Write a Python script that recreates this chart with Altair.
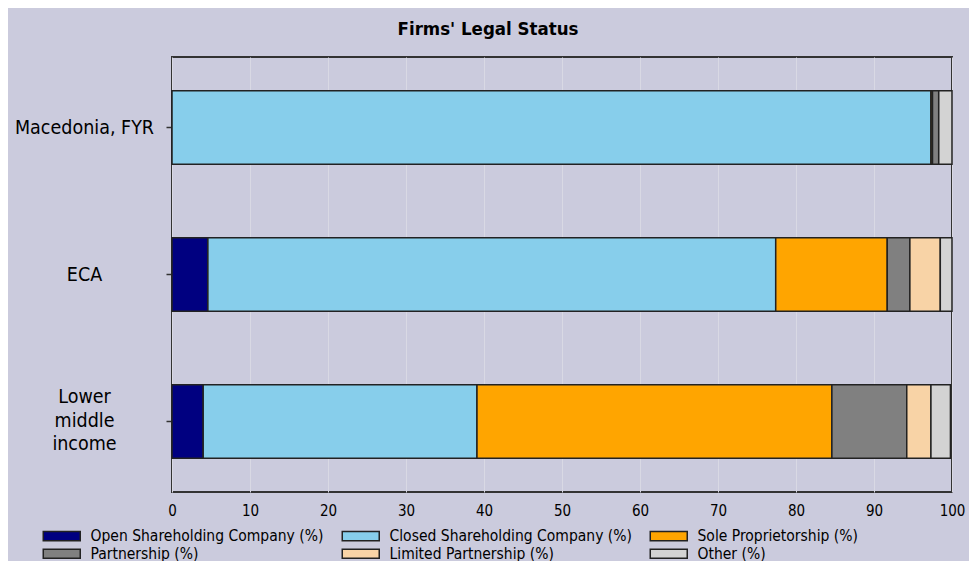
import altair as alt
import pandas as pd

regions = ["Macedonia, FYR", "ECA", "Lower|middle|income"]
categories = [
    "Open Shareholding Company (%)",
    "Closed Shareholding Company (%)",
    "Sole Proprietorship  (%)",
    "Partnership  (%)",
    "Limited Partnership (%)",
    "Other  (%)",
]
colors = ["#000080", "#87CEEB", "#FFA500", "#808080", "#F8D3A6", "#D3D3D3"]

open_sh = [0.0, 4.6, 4.0]
closed_sh = [97.3, 72.8, 35.1]
sole = [0.2, 14.3, 45.5]
partnership = [0.8, 2.9, 9.6]
limited = [0.0, 3.9, 3.1]
other = [1.7, 1.5, 2.5]

series = [open_sh, closed_sh, sole, partnership, limited, other]
rows = []
for ci, (cat, vals) in enumerate(zip(categories, series)):
    for r, v in zip(regions, vals):
        rows.append({"region": r, "category": cat, "value": v, "order": ci})
df = pd.DataFrame(rows)

FONT = "DejaVu Sans Condensed"
BG = "#CBCBDD"

chart = (
    alt.Chart(df)
    .mark_bar(stroke="#222222", strokeWidth=1.5)
    .encode(
        x=alt.X(
            "value:Q",
            stack="zero",
            scale=alt.Scale(domain=[0, 100], nice=False),
            axis=alt.Axis(
                values=list(range(0, 101, 10)),
                title=None,
                ticks=False,
                domain=False,
                grid=True,
                gridColor="#D9D9E4",
                gridWidth=1,
                labelFont=FONT,
                labelFontSize=15,
                labelColor="#000000",
                labelPadding=11,
                labelFlush=False,
            ),
        ),
        y=alt.Y(
            "region:N",
            sort=regions,
            scale=alt.Scale(paddingInner=0.5, paddingOuter=0.23),
            axis=alt.Axis(
                title=None,
                domain=False,
                ticks=True,
                tickSize=6,
                tickColor="#333333",
                tickWidth=1.5,
                labelExpr="split(datum.label, '|')",
                labelAlign="center",
                labelBaseline="middle",
                labelPadding=82,
                labelOffset={
                    "condition": {"test": "indexof(datum.value, '|') >= 0", "value": -24},
                    "value": 0,
                },
                labelFont=FONT,
                labelFontSize=19.5,
                labelLineHeight=23.5,
                labelColor="#000000",
                labelLimit=300,
            ),
        ),
        color=alt.Color(
            "category:N",
            sort=categories,
            scale=alt.Scale(domain=categories, range=colors),
            legend=alt.Legend(
                title=None,
                orient="none",
                legendX=-118,
                legendY=471,
                direction="horizontal",
                columns=3,
                columnPadding=15,
                rowPadding=1,
                symbolType="M-3,-0.75H3V0.75H-3Z",
                symbolSize=152,
                symbolStrokeColor="#222222",
                symbolStrokeWidth=1.5,
                labelFont=FONT,
                labelFontSize=15.5,
                labelColor="#000000",
                labelOffset=21,
                labelLimit=400,
            ),
        ),
        order=alt.Order("order:Q", sort="ascending"),
    )
    .properties(
        width=780,
        height=435,
        title=alt.TitleParams(
            "Firms' Legal Status",
            font=FONT,
            fontSize=18.5,
            fontWeight="bold",
            color="#000000",
            anchor="middle",
            frame="group",
            dx=-74,
            dy=18,
            offset=22,
            baseline="alphabetic",
        ),
        autosize=alt.AutoSizeParams(type="none"),
        padding={"left": 164, "top": 49, "right": 17, "bottom": 80},
        background=BG,
    )
    .configure_view(stroke="#333333", strokeWidth=2, fill=BG)
)

chart.save("out.html", embed_options={"renderer": "svg", "actions": False})
